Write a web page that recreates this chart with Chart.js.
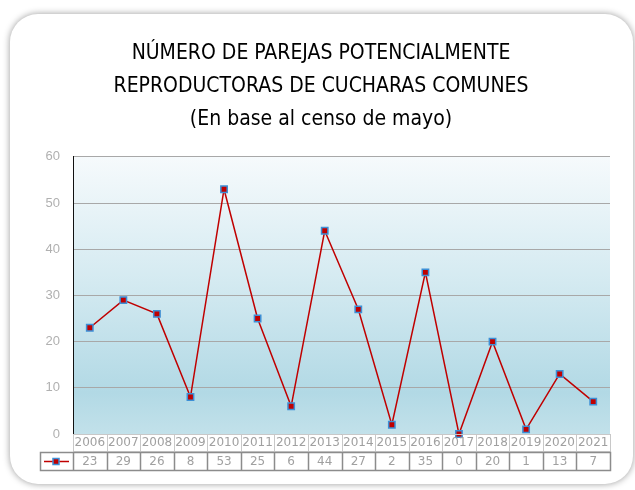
<!DOCTYPE html>
<html>
<head>
<meta charset="utf-8">
<script src="https://cdn.jsdelivr.net/npm/chart.js@4"></script>
<style>
  html, body { margin: 0; padding: 0; background: #fff; }
  #wrap { position: relative; width: 635px; height: 490px; overflow: hidden; }
  #card {
    position: absolute; left: 10px; top: 14px; width: 623px; height: 470px;
    background: #fff; border-radius: 28px;
    box-shadow: 0 0 7px rgba(0,0,0,0.4);
  }
  canvas { position: absolute; left: 0; top: 0; }
</style>
</head>
<body>
<div id="wrap">
  <div id="card"></div>
  <canvas id="chart" width="635" height="490"></canvas>
</div>
<script>
// Data
const years = ["2006","2007","2008","2009","2010","2011","2012","2013","2014","2015","2016","2017","2018","2019","2020","2021"];
const pairs = [23, 29, 26, 8, 53, 25, 6, 44, 27, 2, 35, 0, 20, 1, 13, 7];
const yTicks = [0, 10, 20, 30, 40, 50, 60];
const titleLines = ["NÚMERO DE PAREJAS POTENCIALMENTE", "REPRODUCTORAS DE CUCHARAS COMUNES", "(En base al censo de mayo)"];

const lineColor = "#c00000";
const markerBorder = "#3d8fd6";

// Gradient background for the plot area
const plotBg = {
  id: "plotBg",
  beforeDraw(chart) {
    const { ctx, chartArea: a } = chart;
    const g = ctx.createLinearGradient(0, a.top, 0, a.bottom);
    g.addColorStop(0, "#f6fafc");
    g.addColorStop(0.45, "#d4eaf1");
    g.addColorStop(0.85, "#b2d9e5");
    g.addColorStop(1, "#c2e1ea");
    ctx.save();
    ctx.fillStyle = g;
    ctx.fillRect(a.left, a.top, a.right - a.left, a.bottom - a.top);
    ctx.restore();
  }
};

// Data table under the plot
const dataTable = {
  id: "dataTable",
  afterDraw(chart) {
    const { ctx, chartArea: a } = chart;
    const x = chart.scales.x;
    const half = (x.getPixelForValue(1) - x.getPixelForValue(0)) / 2;
    const row1 = a.bottom, row2 = a.bottom + 18, row3 = a.bottom + 36;
    const legL = 40;
    ctx.save();
    ctx.font = "12px 'DejaVu Sans'";
    ctx.textAlign = "center";
    ctx.textBaseline = "middle";
    ctx.fillStyle = "#a0a0a0";
    years.forEach((y, i) => {
      const cx = x.getPixelForValue(i);
      ctx.fillText(y, cx, row1 + 9);
      ctx.fillText(String(pairs[i]), cx, row2 + 9.5);
    });
    // grid of the table
    ctx.strokeStyle = "#c8c8c8";
    ctx.lineWidth = 1;
    ctx.beginPath();
    for (let i = 0; i <= years.length; i++) {
      const ex = Math.round(x.getPixelForValue(0) - half + i * 2 * half) + 0.5;
      ctx.moveTo(ex, row1);
      ctx.lineTo(ex, row2);
    }
    ctx.moveTo(a.left, row1 + 0.5);
    ctx.lineTo(a.right, row1 + 0.5);
    ctx.stroke();
    ctx.strokeStyle = "#8c8c8c";
    ctx.lineWidth = 1.5;
    ctx.beginPath();
    ctx.rect(legL + 0.5, row2 + 0.5, a.right - legL, row3 - row2);
    for (let i = 0; i <= years.length; i++) {
      const ex = Math.round(x.getPixelForValue(0) - half + i * 2 * half) + 0.5;
      ctx.moveTo(ex, row2);
      ctx.lineTo(ex, row3);
    }
    ctx.stroke();
    ctx.strokeStyle = "#bdbdbd";
    ctx.lineWidth = 1;
    ctx.beginPath();
    ctx.moveTo(a.left, row2 - 0.5);
    ctx.lineTo(a.right, row2 - 0.5);
    ctx.stroke();
    // legend key
    const ky = row2 + 9.5;
    ctx.strokeStyle = lineColor;
    ctx.lineWidth = 1.5;
    ctx.beginPath();
    ctx.moveTo(legL + 4, ky);
    ctx.lineTo(a.left - 4, ky);
    ctx.stroke();
    ctx.fillStyle = lineColor;
    ctx.strokeStyle = markerBorder;
    ctx.fillRect(legL + 13, ky - 3, 6, 6);
    ctx.strokeRect(legL + 13, ky - 3, 6, 6);
    ctx.restore();
  }
};

new Chart(document.getElementById("chart"), {
  type: "line",
  data: {
    labels: years,
    datasets: [{
      label: "Parejas",
      data: pairs,
      borderColor: lineColor,
      borderWidth: 1.5,
      pointStyle: "rect",
      pointRadius: 4.5,
      pointBackgroundColor: lineColor,
      pointBorderColor: markerBorder,
      pointBorderWidth: 1.5,
      tension: 0,
      clip: false
    }]
  },
  options: {
    responsive: false,
    animation: false,
    layout: { padding: { top: 37, left: 32, right: 25, bottom: 56 } },
    plugins: {
      legend: { display: false },
      tooltip: { enabled: false },
      title: {
        display: true,
        text: titleLines,
        color: "#000",
        font: { family: "'Liberation Sans Narrow', 'DejaVu Sans Condensed', sans-serif", size: 21, weight: "normal", lineHeight: 1.57 },
        padding: { top: 0, bottom: 21 }
      }
    },
    scales: {
      x: {
        display: false,
        offset: true
      },
      y: {
        min: 0,
        max: 60,
        afterFit(s) { s.width = 41; },
        afterBuildTicks(s) { s.ticks = yTicks.map(v => ({ value: v })); },
        grid: { color: "#a8a8a8", drawTicks: false },
        border: { display: true, color: "#111", width: 1 },
        ticks: {
          padding: 13,
          color: "#b0b0b0",
          font: { family: "'Liberation Sans', Arial, sans-serif", size: 13 }
        }
      }
    }
  },
  plugins: [plotBg, dataTable]
});
</script>
</body>
</html>
